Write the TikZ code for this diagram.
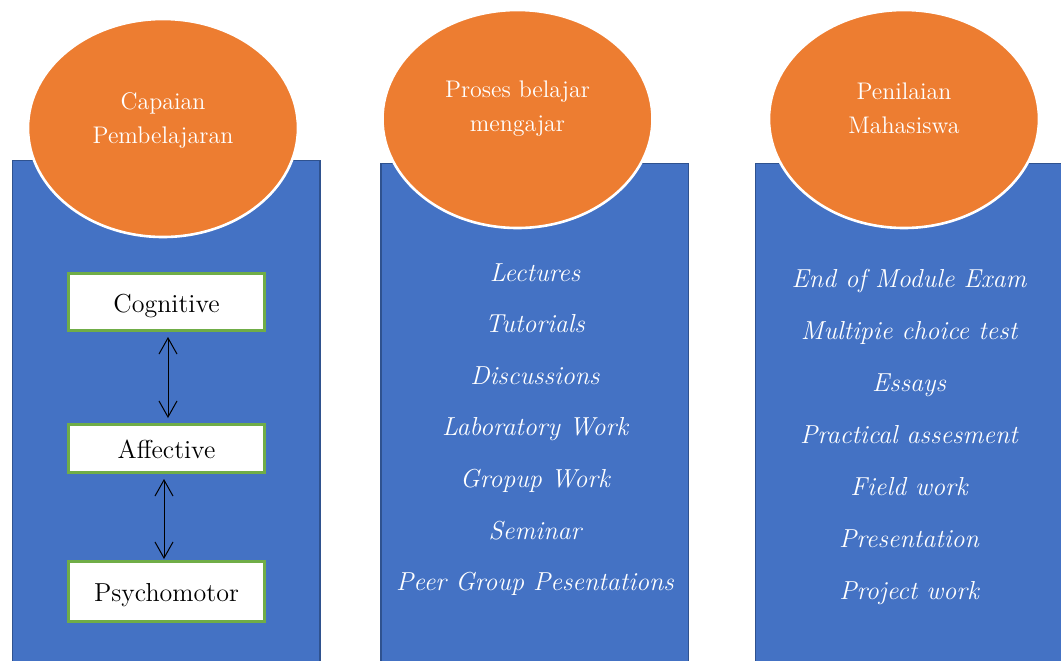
\documentclass[tikz,border=0pt]{standalone}
\usepackage{tikz}
\usetikzlibrary{arrows.meta,shapes.geometric}
\definecolor{boxblue}{HTML}{4472C4}
\definecolor{boxedge}{HTML}{2F528F}
\definecolor{bubbleorange}{HTML}{ED7D31}
\definecolor{leafgreen}{HTML}{70AD47}
\tikzset{
  columnbox/.style={fill=boxblue, draw=boxedge, line width=0.8pt},
  bubble/.style={ellipse, fill=bubbleorange, draw=white, line width=1.3pt,
    minimum width=135pt, minimum height=109pt, inner sep=0pt},
  bubbletext/.style={text=white, align=center, font=\fontsize{12}{17}\selectfont},
  domainbox/.style={rectangle, fill=white, draw=leafgreen, line width=1.5pt,
    minimum width=98pt, text height=11.5pt, text depth=1.5pt,
    font=\fontsize{13}{15}\selectfont},
  listitem/.style={text=white, anchor=base, font=\fontsize{13}{15}\selectfont\itshape},
  link/.style={{Straight Barb[length=8pt,width=9pt]}-{Straight Barb[length=8pt,width=9pt]},
    line width=0.5pt, shorten <=2.5pt, shorten >=2.5pt}
}
\begin{document}
\begin{tikzpicture}[x=0.5pt,y=-0.5pt]
  \useasboundingbox (0,0) rectangle (1061,660);
  \clip (0,0) rectangle (1061,660);
  % columns
  \draw[columnbox] (12.5,160.5) rectangle (320,680);
  \draw[columnbox] (381,163.5) rectangle (688.5,680);
  \draw[columnbox] (755.5,163.5) rectangle (1080,680);
  % headers
  \node[bubble] (capaian) at (163,128) {};
  \node[bubble] (proses)  at (517.5,119) {};
  \node[bubble] (nilai)   at (904,119) {};
  \node[bubbletext] (capaian-t) at (163,120)   {Capaian\\Pembelajaran};
  \node[bubbletext] (proses-t)  at (517.5,109) {Proses belajar\\mengajar};
  \node[bubbletext] (nilai-t)   at (904,108)   {Penilaian\\Mahasiswa};
  % learning domains
  \node[domainbox, minimum height=28.5pt] (cognitive)   at (166.5,302)   {Cognitive};
  \node[domainbox, minimum height=24pt]   (affective)   at (166.5,448.5) {Affective};
  \node[domainbox, minimum height=30pt]   (psychomotor) at (166.5,591.5) {Psychomotor};
  \draw[link] ([xshift=0.75pt]cognitive.south) -- ([xshift=0.75pt]affective.north);
  \draw[link, shorten >=0.5pt] ([xshift=-1.25pt]affective.south) -- ([xshift=-1.25pt]psychomotor.north);
  % lists
  \foreach \txt [count=\i from 0] in {Lectures, Tutorials, Discussions, Laboratory Work,
      Gropup Work, Seminar, Peer Group Pesentations}
    \node[listitem] (proses-\i) at (535,{281+51.6*\i}) {\txt};
  \foreach \txt [count=\i from 0] in {End of Module Exam, Multipie choice test, Essays,
      Practical assesment, Field work, Presentation, Project work}
    \node[listitem] (nilai-\i) at (909,{287+52.1*\i}) {\txt};
\end{tikzpicture}
\end{document}
